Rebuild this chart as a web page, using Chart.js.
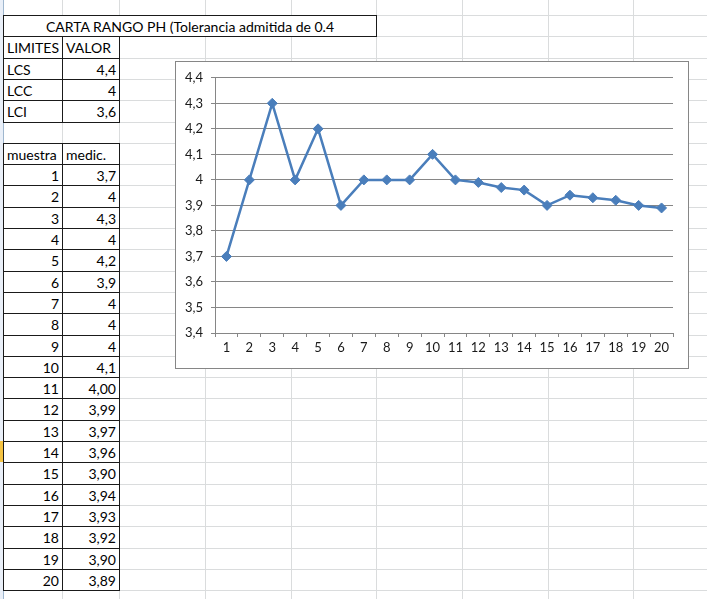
<!DOCTYPE html>
<html>
<head>
<meta charset="utf-8">
<script src="https://cdn.jsdelivr.net/npm/chart.js@4/dist/chart.umd.min.js"></script>
<style>
  html, body { margin: 0; padding: 0; background: #fff; }
  #sheet { position: relative; width: 707px; height: 599px; overflow: hidden; background: #fff;
           font-family: Lato, "Liberation Sans", sans-serif; font-size: 14px; color: #000; }
  .gl { position: absolute; background: #dadcdd; }
  .cell { position: absolute; box-sizing: border-box; border: 1px solid #1a1a1a; background: #fff;
          white-space: nowrap; overflow: hidden; padding: 1px 3px 0 3px; }
  #chartBox { position: absolute; left: 175px; top: 61px; width: 514px; height: 308px;
              box-sizing: border-box; border: 1px solid #868686; background: #fff; }
  #chartBox canvas { position: absolute; left: 0; top: 0; }
</style>
</head>
<body>
<div id="sheet">
  <div id="chartBox"><canvas id="phChart" width="512" height="306"></canvas></div>
</div>
<script>
(function () {
  "use strict";

  // ── Data ───────────────────────────────────────────────────────
  var titulo = "CARTA RANGO PH (Tolerancia admitida de 0.4";
  var limites = ["LCS", "LCC", "LCI"];
  var limiteValores = ["4,4", "4", "3,6"];
  var muestras = ["1", "2", "3", "4", "5", "6", "7", "8", "9", "10",
                  "11", "12", "13", "14", "15", "16", "17", "18", "19", "20"];
  var medicion = [3.7, 4, 4.3, 4, 4.2, 3.9, 4, 4, 4, 4.1,
                  4.00, 3.99, 3.97, 3.96, 3.90, 3.94, 3.93, 3.92, 3.90, 3.89];
  var medicionTexto = ["3,7", "4", "4,3", "4", "4,2", "3,9", "4", "4", "4", "4,1",
                       "4,00", "3,99", "3,97", "3,96", "3,90", "3,94", "3,93", "3,92", "3,90", "3,89"];
  var yMin = 3.4, yMax = 4.4, yStep = 0.1;

  // ── Spreadsheet grid ───────────────────────────────────────────
  var sheet = document.getElementById("sheet");
  var chartBox = document.getElementById("chartBox");
  var colX = [3, 62, 119, 205, 291, 376, 462, 548, 633, 719];
  var rowY = function (k) { return Math.round(15 + 21.3 * k); };

  var add = function (cls, css, text) {
    var d = document.createElement("div");
    d.className = cls;
    d.style.cssText = css;
    if (text != null) d.textContent = text;
    sheet.insertBefore(d, chartBox);
    return d;
  };

  // row header strip + selection mark
  add("gl", "left:0;top:0;width:3px;height:599px;background:#e9eff8;");
  add("gl", "left:3px;top:0;width:1px;height:599px;background:#9eb6ce;");
  add("gl", "left:0;top:" + rowY(20) + "px;width:3px;height:" + (rowY(21) - rowY(20)) + "px;background:#f5c342;");

  for (var k = -1; k <= 28; k++) {
    add("gl", "left:4px;top:" + rowY(k) + "px;width:703px;height:1px;");
  }
  colX.slice(1).forEach(function (x) {
    add("gl", "left:" + x + "px;top:0;width:1px;height:599px;");
  });

  var cell = function (c0, c1, r, text, align) {
    var y0 = rowY(r), y1 = rowY(r + 1);
    var h = y1 - y0 + 1;
    add("cell", "left:" + colX[c0] + "px;top:" + y0 + "px;width:" + (colX[c1] - colX[c0] + 1) +
        "px;height:" + h + "px;line-height:" + (h - 3) + "px;text-align:" + align + ";", text);
  };

  cell(0, 5, 0, titulo, "center");
  cell(0, 1, 1, "LIMITES", "left");
  cell(1, 2, 1, "VALOR", "left");
  limites.forEach(function (l, i) {
    cell(0, 1, 2 + i, l, "left");
    cell(1, 2, 2 + i, limiteValores[i], "right");
  });
  cell(0, 1, 6, "muestra", "left");
  cell(1, 2, 6, "medic.", "left");
  muestras.forEach(function (m, i) {
    cell(0, 1, 7 + i, m, "right");
    cell(1, 2, 7 + i, medicionTexto[i], "right");
  });

  // ── Chart ──────────────────────────────────────────────────────
  var blue = "#4a7ebb";
  var grid = "#868686";
  var text = "#1a1a1a";
  var font = { family: "Lato", size: 13 };

  new Chart(document.getElementById("phChart"), {
    type: "line",
    data: {
      labels: muestras,
      datasets: [{
        label: "medic.",
        data: medicion,
        borderColor: blue,
        backgroundColor: blue,
        borderWidth: 2.5,
        tension: 0,
        pointStyle: "rectRot",
        pointRadius: 5,
        pointBorderWidth: 1,
        pointBackgroundColor: blue,
        pointBorderColor: blue,
      }],
    },
    options: {
      responsive: false,
      animation: false,
      devicePixelRatio: 1,
      layout: { padding: { top: 14, right: 15, bottom: 0, left: 0 } },
      plugins: { legend: { display: false }, tooltip: { enabled: false } },
      scales: {
        x: {
          type: "category",
          offset: true,
          grid: { offset: true, drawOnChartArea: false, tickLength: 4, color: grid },
          border: { color: grid },
          ticks: { color: text, font: font, padding: 3, maxRotation: 0, autoSkip: false },
          afterFit: function (s) { s.height = 35; },
        },
        y: {
          min: yMin,
          max: yMax,
          grid: { color: grid, tickLength: 4 },
          border: { color: grid },
          ticks: {
            stepSize: yStep,
            color: text,
            font: font,
            padding: 8,
            callback: function (v) {
              return (Math.round(v * 10) / 10).toString().replace(".", ",");
            },
          },
          afterFit: function (s) { s.width = 39; },
        },
      },
    },
  });
})();
</script>
</body>
</html>
